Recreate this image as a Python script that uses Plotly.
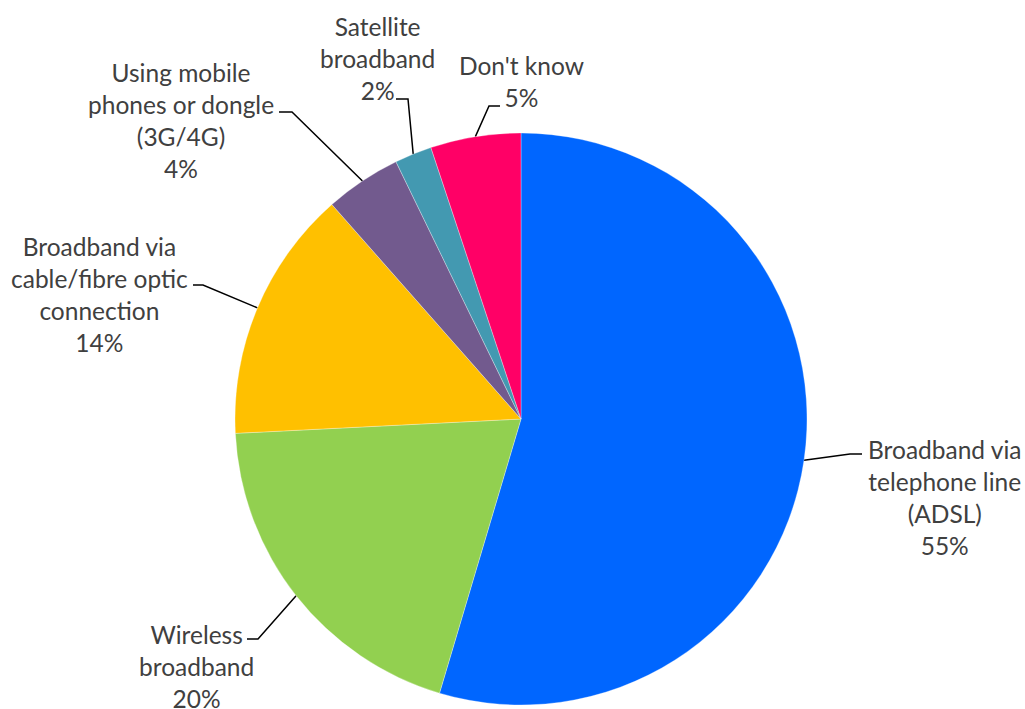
import math
import plotly.graph_objects as go

# ---- data ----
labels = [
    "Broadband via telephone line (ADSL)",
    "Wireless broadband",
    "Broadband via cable/fibre optic connection",
    "Using mobile phones or dongle (3G/4G)",
    "Satellite broadband",
    "Don't know",
]
label_lines = [
    ["Broadband via", "telephone line", "(ADSL)"],
    ["Wireless", "broadband"],
    ["Broadband via", "cable/fibre optic", "connection"],
    ["Using mobile", "phones or dongle", "(3G/4G)"],
    ["Satellite", "broadband"],
    ["Don't know"],
]
values = [54.6, 19.6, 14.3, 4.3, 2.1, 5.1]
colors = ["#0066FF", "#92D050", "#FFC000", "#725A8E", "#4399B1", "#FF0066"]

# ---- layout constants (pixels) ----
W, H = 1025, 709
CX, CY, R = 521, 419, 286
# label block centre, leader elbow, leader end
label_pos = [(944, 497), (196, 666), (99, 294), (181, 120), (377, 58), (521, 81)]
elbows = [(850, 454), (258, 639), (203, 285), (292, 112), (408, 99), (489, 106)]
ends = [(862, 454), (247, 639), (193, 285), (279, 112), (396, 99), (500, 106)]

FONT = "Lato"
TXT = "#404040"
FS = 24.5

fig = go.Figure()
fig.add_trace(go.Pie(
    labels=labels, values=values, sort=False, direction="clockwise", rotation=0,
    marker=dict(colors=colors, line=dict(color="rgba(255,255,255,0.6)", width=0.5)),
    textinfo="none", hoverinfo="label+percent", showlegend=False,
    domain=dict(x=[(CX - R) / W, (CX + R) / W], y=[1 - (CY + R) / H, 1 - (CY - R) / H]),
))

total = sum(values)
cum = 0.0
annotations = []
for i, v in enumerate(values):
    mid = (cum + v / 2) / total * 2 * math.pi
    cum += v
    px = CX + R * math.sin(mid)
    py = CY - R * math.cos(mid)
    fig.add_trace(go.Scatter(
        x=[px, elbows[i][0], ends[i][0]], y=[py, elbows[i][1], ends[i][1]],
        mode="lines", line=dict(color="black", width=1.5),
        hoverinfo="skip", showlegend=False,
    ))
    pct = f"{round(v / total * 100)}%"
    text = "<br>".join(label_lines[i] + [pct])
    annotations.append(dict(
        x=label_pos[i][0], y=label_pos[i][1], xref="x", yref="y", text=text,
        showarrow=False, xanchor="center", yanchor="middle", align="center",
        font=dict(family=FONT, size=FS, color=TXT),
    ))

fig.update_layout(
    width=W, height=H, margin=dict(l=0, r=0, t=0, b=0),
    paper_bgcolor="white", plot_bgcolor="rgba(0,0,0,0)",
    xaxis=dict(range=[0, W], visible=False, fixedrange=True),
    yaxis=dict(range=[H, 0], visible=False, fixedrange=True),
    annotations=annotations,
)
fig.write_html("out.html")
